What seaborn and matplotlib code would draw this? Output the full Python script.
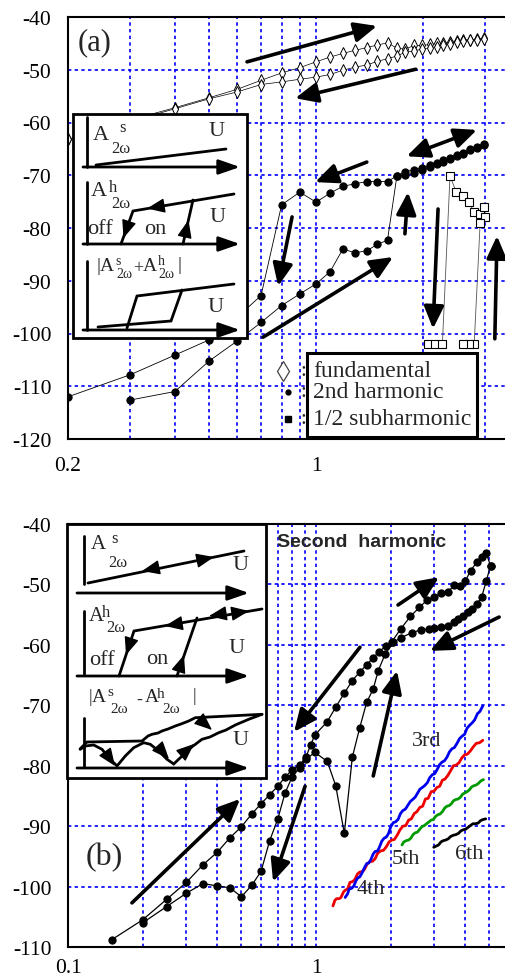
import matplotlib
matplotlib.use('Agg')
import matplotlib.pyplot as plt
import seaborn as sns
from matplotlib.patches import Rectangle
from matplotlib.ticker import NullFormatter

# ---------------- panel (a) data ----------------
fund_x = [0.2, 0.3, 0.4, 0.5, 0.6, 0.7, 0.8, 0.9, 1.0, 1.095, 1.19, 1.29, 1.39, 1.49,
          1.59, 1.69, 1.78, 1.89, 1.99, 2.10, 2.19, 2.28, 2.39, 2.49, 2.60, 2.72, 2.84, 2.98]
fund_up = [-63.2, -59.5, -57.2, -55.3, -53.7, -52.0, -50.6, -49.6, -48.5, -47.6, -46.9, -46.3,
           -45.8, -45.3, -44.9, -45.9, -46.1, -45.4, -45.4, -45.2, -45.0, -44.9, -44.7, -44.5,
           -44.4, -44.3, -44.2, -44.0]
fund_down = [-63.2, -59.8, -57.4, -55.5, -54.2, -52.8, -52.3, -51.8, -51.4, -50.9, -50.1, -49.5,
             -49.1, -48.4, -47.9, -47.4, -46.7, -46.4, -46.1, -45.8, -45.6, -45.3, -45.1, -44.8,
             -44.6, -44.4, -44.3, -44.2]

h2a_x1 = [0.2, 0.3, 0.4, 0.5, 0.6, 0.7, 0.8, 0.9, 1.0, 1.095, 1.19, 1.29, 1.39, 1.49,
          1.59, 1.69, 1.78, 1.89, 1.99, 2.10, 2.19, 2.28, 2.39, 2.49, 2.60, 2.72, 2.84, 2.98]
h2a_y1 = [-112.0, -107.8, -104.1, -101.2, -96.9, -92.8, -75.6, -73.2, -75.1, -73.4, -72.1, -71.6,
          -71.2, -71.2, -71.2, -70.1, -69.3, -69.0, -68.6, -68.1, -67.6, -67.2, -66.7, -66.2,
          -65.7, -65.1, -64.6, -64.0]
h2a_x2 = [0.3, 0.4, 0.5, 0.6, 0.7, 0.8, 0.9, 1.0, 1.095, 1.19, 1.29, 1.39, 1.49, 1.59,
          1.69, 1.78, 1.89, 1.99, 2.10, 2.19, 2.28, 2.39, 2.49, 2.60, 2.72, 2.84, 2.98]
h2a_y2 = [-112.6, -111.0, -105.2, -101.4, -97.9, -94.7, -92.5, -90.6, -88.3, -84.0, -84.7, -84.3,
          -83.1, -82.3, -70.1, -70.0, -69.6, -69.0, -68.4, -67.9, -67.4, -66.9, -66.4, -65.9,
          -65.3, -64.8, -64.2]

sub_x = [2.07, 2.17, 2.27, 2.385, 2.48, 2.59, 2.69, 2.79, 2.90, 2.98, 2.99, 2.90, 2.79, 2.70, 2.60]
sub_y = [-102.0, -102.0, -102.0, -70.1, -73.1, -74.0, -75.0, -77.0, -77.3, -76.1, -78.0, -79.1,
         -102.0, -102.0, -102.0]

# ---------------- panel (b) data ----------------
h2b_x1 = [0.15, 0.2, 0.25, 0.3, 0.35, 0.4, 0.45, 0.5, 0.55, 0.6, 0.65, 0.7, 0.75, 0.8, 0.86,
          0.91, 0.95, 0.99, 1.11, 1.2, 1.3, 1.4, 1.5, 1.6, 1.7, 1.8, 1.91, 2.02, 2.19, 2.4,
          2.61, 2.8, 3.0, 3.2, 3.4, 3.6, 3.8, 4.0, 4.2, 4.45, 4.65, 4.85, 5.05]
h2b_y1 = [-108.8, -105.5, -102.1, -99.3, -96.4, -94.3, -91.9, -90.1, -88.0, -86.3, -84.8, -83.4,
          -81.9, -80.7, -79.9, -78.6, -76.6, -74.9, -72.7, -70.3, -68.0, -65.9, -64.5, -63.3,
          -62.1, -61.1, -60.2, -59.5, -57.4, -55.3, -53.8, -52.6, -52.0, -51.5, -51.3, -50.1,
          -50.2, -49.4, -47.7, -46.3, -45.5, -44.8, -46.9]
h2b_x2 = [5.05, 4.85, 4.65, 4.45, 4.25, 4.1, 3.9, 3.75, 3.6, 3.4, 3.2, 3.0, 2.85, 2.65, 2.43,
          2.2, 2.05, 1.9, 1.78, 1.7, 1.6, 1.5, 1.4, 1.3, 1.2, 1.11, 0.99, 0.91, 0.86, 0.8, 0.75,
          0.7, 0.65, 0.6, 0.55, 0.5, 0.45, 0.4, 0.35, 0.3, 0.25, 0.2]
h2b_y2 = [-46.9, -49.5, -52.1, -53.2, -54.1, -54.6, -55.2, -55.7, -56.3, -56.8, -57.1, -57.2,
          -57.4, -57.5, -58.0, -58.8, -59.6, -61.5, -64.3, -67.3, -69.5, -73.7, -78.6, -91.2,
          -83.3, -79.3, -77.8, -78.9, -80.3, -81.9, -84.5, -88.9, -92.4, -97.5, -99.8, -101.7,
          -100.2, -99.9, -99.5, -101.1, -103.3, -106.0]

h3_x = [1.31, 1.34, 1.36, 1.39, 1.42, 1.45, 1.47, 1.50, 1.53, 1.57, 1.60, 1.63, 1.66, 1.70,
        1.73, 1.77, 1.80, 1.84, 1.88, 1.92, 1.96, 2.00, 2.05, 2.09, 2.14, 2.19, 2.24, 2.29,
        2.34, 2.40, 2.45, 2.51, 2.56, 2.62, 2.68, 2.74, 2.81, 2.87, 2.94, 3.01, 3.08, 3.15,
        3.22, 3.29, 3.37, 3.45, 3.53, 3.61, 3.70, 3.79, 3.88, 3.97, 4.06, 4.16, 4.26, 4.36,
        4.47, 4.58, 4.70]
h3_y = [-101.8, -101.2, -100.4, -100.3, -99.9, -99.0, -98.6, -98.4, -97.8, -96.8, -96.2, -96.1,
        -95.6, -94.6, -94.2, -94.1, -93.5, -92.5, -92.0, -91.8, -91.2, -90.1, -89.4, -89.3,
        -88.9, -87.9, -87.4, -87.2, -86.6, -85.9, -85.6, -85.2, -84.6, -83.9, -83.6, -83.3,
        -82.8, -82.0, -81.5, -81.3, -80.6, -79.8, -79.4, -79.2, -78.6, -77.7, -77.2, -77.0,
        -76.3, -75.5, -75.1, -74.8, -73.8, -73.3, -72.9, -72.4, -71.4, -71.0, -70.1]
h4_x = [1.17, 1.19, 1.21, 1.24, 1.26, 1.29, 1.31, 1.34, 1.37, 1.40, 1.43, 1.47, 1.50, 1.54,
        1.57, 1.61, 1.65, 1.69, 1.73, 1.77, 1.82, 1.87, 1.92, 1.97, 2.02, 2.07, 2.13, 2.18,
        2.24, 2.30, 2.36, 2.42, 2.49, 2.55, 2.62, 2.69, 2.76, 2.83, 2.91, 2.99, 3.07, 3.15,
        3.23, 3.31, 3.40, 3.49, 3.58, 3.67, 3.77, 3.87, 3.97, 4.07, 4.18, 4.30, 4.42, 4.56, 4.70]
h4_y = [-103.2, -102.3, -102.0, -102.0, -101.8, -100.9, -100.6, -100.4, -99.3, -99.2, -98.9,
        -97.9, -97.6, -97.5, -97.1, -96.2, -95.9, -95.8, -95.4, -94.5, -94.1, -94.0, -93.4,
        -92.6, -92.3, -92.2, -91.4, -90.6, -90.0, -89.9, -89.0, -88.8, -87.9, -87.6, -86.9,
        -86.7, -85.5, -85.4, -84.3, -84.2, -83.6, -83.4, -82.4, -82.2, -81.6, -80.8, -80.0,
        -79.9, -79.5, -78.7, -78.2, -78.1, -77.6, -76.9, -76.3, -76.2, -75.8]
h5_x = [2.22, 2.26, 2.31, 2.36, 2.41, 2.46, 2.51, 2.56, 2.62, 2.67, 2.73, 2.79, 2.85, 2.91,
        2.97, 3.03, 3.10, 3.16, 3.23, 3.30, 3.37, 3.44, 3.51, 3.58, 3.66, 3.74, 3.82, 3.90,
        3.98, 4.06, 4.15, 4.24, 4.33, 4.42, 4.52, 4.62, 4.73]
h5_y = [-93.1, -92.6, -92.4, -92.3, -92.0, -91.4, -91.1, -91.0, -90.5, -90.1, -89.9, -89.6,
        -89.3, -89.0, -88.9, -88.4, -88.1, -88.0, -87.6, -87.0, -86.7, -86.6, -86.3, -85.8,
        -85.6, -85.5, -85.2, -84.7, -84.5, -84.3, -84.0, -83.5, -83.3, -83.2, -82.9, -82.5, -82.3]
h6_x = [2.98, 3.05, 3.12, 3.19, 3.26, 3.33, 3.41, 3.49, 3.58, 3.66, 3.75, 3.83, 3.92, 4.01,
        4.10, 4.19, 4.29, 4.39, 4.50, 4.60, 4.71, 4.83]
h6_y = [-93.5, -93.3, -93.1, -92.6, -92.4, -92.3, -92.1, -91.7, -91.5, -91.4, -91.2, -90.8,
        -90.6, -90.5, -90.2, -89.9, -89.6, -89.6, -89.5, -89.1, -88.9, -88.8]

# arrows (data coordinates): (tail, head)
arrows_a = [((0.639, -48.5), (1.485, -41.7)), ((1.91, -49.9), (0.873, -55.4)),
            ((1.39, -67.5), (0.994, -71.3)), ((0.856, -77.9), (0.782, -91.0)),
            ((1.78, -81.1), (1.816, -73.2)), ((0.709, -100.7), (1.648, -85.5)),
            ((2.207, -76.4), (2.136, -99.1)), ((3.19, -101.0), (3.236, -81.5))]
double_a = ((1.80, -66.4), (2.84, -61.4))
arrows_b = [((0.181, -102.7), (0.494, -85.5)), ((0.903, -83.4), (0.671, -99.2)),
            ((1.503, -60.4), (0.815, -74.4)), ((2.14, -53.4), (3.13, -48.8)),
            ((5.47, -55.4), (2.88, -61.0)), ((1.70, -81.7), (2.12, -64.3))]

# ---------------- sketch insets (figure pixel coordinates) ----------------
inset_a_box = (73, 115, 247, 339)
inset_a_lines = [[(87, 118), (87, 168)], [(96, 166), (226, 150)],
                 [(87, 183), (87, 245)], [(234, 195), (133, 212), (121, 245)],
                 [(183, 245), (193, 201)], [(87, 262), (87, 331)],
                 [(98, 328), (171, 322), (182, 291)], [(127, 329), (137, 297), (234, 285)]]
inset_a_axes = [((83, 168), (240, 168)), ((83, 245), (240, 245)), ((83, 331), (240, 331))]
inset_a_heads = [((165, 206.5), (147, 209.5)), ((127.5, 227), (123.5, 239)),
                 ((185.5, 234), (188.5, 221))]
inset_a_text = [("A", 101, 136, 16), ("s", 123, 128, 12), ("2ω", 121, 149, 12), ("U", 217, 131, 16),
                ("A", 99, 192, 16), ("h", 113, 188, 12), ("2ω", 121, 204, 12), ("U", 218, 218, 16),
                ("off", 100, 229, 16), ("on", 155, 229, 16),
                ("|A", 106, 267, 14), ("s", 118, 262, 10), ("2ω", 124, 275, 10), ("+", 138, 269, 13),
                ("A", 150, 267, 14), ("h", 161, 262, 10), ("2ω", 166, 275, 10), ("|", 180, 266, 14),
                ("U", 216, 308, 16)]

inset_b_box = (67, 525, 266, 779)
inset_b_lines = [[(84, 537), (84, 585)], [(88, 584), (244, 552)],
                 [(84, 612), (84, 675)], [(262, 610), (134, 632), (119, 677)],
                 [(177, 677), (197, 619)], [(84, 719), (84, 767)],
                 [(80.3, 750.3), (85.3, 747), (93.7, 746), (102, 750.3), (108.7, 758.7), (117, 767),
                  (125.3, 757), (133.7, 748.7), (143.7, 743.7), (150.3, 745.3), (158.7, 752),
                  (167, 760.3), (173.7, 765), (180.3, 758.7), (188.7, 750.3), (202, 740.3),
                  (210, 738), (218.7, 733.7), (226, 731), (235.3, 726), (248.7, 720.3), (262, 715.3)],
                 [(80, 750), (87, 743), (142, 742), (148, 737), (152, 735.3), (158, 734), (162, 732),
                  (168, 730), (175.3, 727), (181, 725), (188.7, 722), (195.3, 718.7), (262, 715.3)]]
inset_b_axes = [((77, 594), (249, 594)), ((77, 677), (249, 677)), ((77, 769), (249, 769))]
inset_b_heads = [((200, 561), (214, 558)), ((156, 569), (142, 572)),
                 ((180, 624.5), (165, 627)), ((222, 615), (209, 617)), ((236, 614), (249, 612)),
                 ((130, 644), (126, 656)), ((180, 668), (184, 656)),
                 ((108, 757), (115, 767)), ((161, 751), (169, 760)), ((186, 752), (194, 745)),
                 ((204, 724), (212, 731))]
inset_b_text = [("A", 98, 545, 15), ("s", 115, 539, 12), ("2ω", 118, 563, 12), ("U", 241, 566, 16),
                ("A", 96, 617, 15), ("h", 106, 613, 12), ("2ω", 116, 628, 12),
                ("off", 102, 661, 16), ("on", 157, 660, 16), ("U", 237, 649, 16),
                ("|", 90, 698, 13), ("A", 99, 698, 14), ("s", 110, 693, 11), ("2ω", 119, 710, 11),
                ("-", 139, 700, 13), ("A", 152, 698, 14), ("h", 161, 695, 11), ("2ω", 171, 710, 11),
                ("|", 194, 697, 13), ("U", 241, 741, 16)]

legend_box = (307, 354, 477, 438)
legend_labels = ["fundamental", "2nd harmonic", "1/2 subharmonic"]
legend_rows = [372, 393, 420]
harm_labels = [("3rd", 427, 742), ("4th", 371, 890), ("5th", 406, 860), ("6th", 469, 855)]

W, H = 506, 979
BLUE = '#0000ff'
SERIF = ['Liberation Serif', 'DejaVu Serif']

sns.set_theme(style='white')
plt.rcParams['font.family'] = SERIF
plt.rcParams['axes.unicode_minus'] = False

fig = plt.figure(figsize=(W / 100, H / 100), dpi=100)


def px_box(x0, y0, x1, y1):
    return [x0 / W, 1 - y1 / H, (x1 - x0) / W, (y1 - y0) / H]


def style_axes(ax, xlim, ylim, xmajor, xlabels, xminor, yticks, xpad):
    ax.set_xscale('log')
    ax.set_xlim(*xlim)
    ax.set_ylim(*ylim)
    ax.set_xticks(xmajor, xlabels)
    ax.set_xticks(xminor, minor=True)
    ax.xaxis.set_minor_formatter(NullFormatter())
    ax.set_yticks(yticks, [str(v) for v in yticks])
    ax.grid(True, which='both', axis='x', color=BLUE, ls=(0, (2, 2)), lw=1.2)
    ax.grid(True, which='major', axis='y', color=BLUE, ls=(0, (2, 2)), lw=1.2)
    ax.set_axisbelow(True)
    ax.tick_params(axis='both', which='both', length=0, labelsize=15.5, colors='black')
    ax.tick_params(axis='y', pad=12)
    ax.tick_params(axis='x', pad=xpad)
    for side in ['left', 'bottom', 'top']:
        ax.spines[side].set_color('black')
        ax.spines[side].set_linewidth(1.5)
    ax.spines['right'].set_visible(False)
    ax.set_xlabel('')
    ax.set_ylabel('')


def draw_arrow(ax, tail, head, lw=2.6, hl=1.35, hw=0.6, both=False):
    style = '<|-|>' if both else '-|>'
    ax.annotate('', xy=head, xytext=tail, annotation_clip=False,
                arrowprops=dict(arrowstyle=f'{style},head_length={hl},head_width={hw}',
                                lw=lw, color='black', shrinkA=0, shrinkB=0,
                                mutation_scale=10))


ax_a = fig.add_axes(px_box(68, 18, 506, 440))
ax_b = fig.add_axes(px_box(68, 525, 506, 948))

# panel (a)
ax_a.set_xscale('log')
for ys in (fund_up, fund_down):
    sns.lineplot(x=fund_x, y=ys, ax=ax_a, sort=False, estimator=None, color='black',
                 linewidth=0.5, marker='d', markersize=5.8, markerfacecolor='white',
                 markeredgecolor='black', markeredgewidth=0.7, legend=False)
sns.lineplot(x=sub_x, y=sub_y, ax=ax_a, sort=False, estimator=None, color='#555555',
             linewidth=0.6, marker='s', markersize=5.5, markerfacecolor='white',
             markeredgecolor='black', markeredgewidth=0.8, legend=False)
for xs, ys in ((h2a_x1, h2a_y1), (h2a_x2, h2a_y2)):
    sns.lineplot(x=xs, y=ys, ax=ax_a, sort=False, estimator=None, color='black',
                 linewidth=0.6, marker='o', markersize=5.2, markerfacecolor='black',
                 markeredgecolor='black', legend=False)
style_axes(ax_a, (0.2, 3.43), (-120, -40), [0.2, 1], ['0.2', '1'],
           [0.3, 0.4, 0.5, 0.6, 0.7, 0.8, 0.9, 2, 3], list(range(-120, -39, 10)), 12)
for tail, head in arrows_a:
    draw_arrow(ax_a, tail, head)
draw_arrow(ax_a, double_a[0], double_a[1], both=True)

# panel (b)
ax_b.set_xscale('log')
for xs, ys in ((h2b_x1, h2b_y1), (h2b_x2, h2b_y2)):
    sns.lineplot(x=xs, y=ys, ax=ax_b, sort=False, estimator=None, color='black',
                 linewidth=0.9, marker='o', markersize=5.2, markerfacecolor='black',
                 markeredgecolor='black', legend=False)
for xs, ys, c in ((h4_x, h4_y, '#ee0000'), (h3_x, h3_y, '#0000ee'),
                  (h5_x, h5_y, '#009a00'), (h6_x, h6_y, 'black')):
    sns.lineplot(x=xs, y=ys, ax=ax_b, sort=False, estimator=None, color=c,
                 linewidth=2.0, legend=False)
style_axes(ax_b, (0.1, 5.83), (-110, -40), [0.1, 1], ['0.1', '1'],
           [0.2, 0.3, 0.4, 0.5, 0.6, 0.7, 0.8, 0.9, 2, 3, 4, 5], list(range(-110, -39, 10)), 8)
for tail, head in arrows_b:
    draw_arrow(ax_b, tail, head)

# overlay in pixel coordinates for sketches, labels and legend
ov = fig.add_axes([0, 0, 1, 1])
ov.set_xlim(0, W)
ov.set_ylim(H, 0)
ov.axis('off')


def draw_inset(box, lines, axes_arrows, heads, texts):
    x0, y0, x1, y1 = box
    ov.add_patch(Rectangle((x0, y0), x1 - x0, y1 - y0, facecolor='white',
                           edgecolor='black', lw=2.0, zorder=3))
    for pts in lines:
        ov.plot([p[0] for p in pts], [p[1] for p in pts], color='black', lw=2.0,
                zorder=4, solid_joinstyle='miter')
    for tail, head in axes_arrows:
        draw_arrow(ov, tail, head, lw=2.0, hl=1.3, hw=0.45)
    for tail, head in heads:
        draw_arrow(ov, tail, head, lw=1.0, hl=1.1, hw=0.45)
    for s, x, y, size in texts:
        ov.text(x, y, s, fontsize=size, ha='center', va='center', family=SERIF, zorder=5)


draw_inset(inset_a_box, inset_a_lines, inset_a_axes, inset_a_heads, inset_a_text)
draw_inset(inset_b_box, inset_b_lines, inset_b_axes, inset_b_heads, inset_b_text)

# legend of panel (a)
lx0, ly0, lx1, ly1 = legend_box
ov.add_patch(Rectangle((lx0, ly0), lx1 - lx0, ly1 - ly0, facecolor='white',
                       edgecolor='black', lw=2.2, zorder=3))
for lab, y in zip(legend_labels, legend_rows):
    ov.text(313, y, lab, fontsize=17, ha='left', va='center', family=SERIF, zorder=5)
    ov.text(303, y, ':', fontsize=15, ha='center', va='center', family=SERIF, zorder=5)
ov.plot([283], [legend_rows[0]], marker='d', markersize=10, markerfacecolor='white',
        markeredgecolor='#444444', markeredgewidth=0.9, ls='none')
ov.plot([288], [legend_rows[1]], marker='o', markersize=3.5, color='black', ls='none')
ov.plot([288], [legend_rows[2]], marker='s', markersize=4, color='black', ls='none')

ov.text(95, 43, '(a)', fontsize=22, ha='center', va='center', family=SERIF)
ov.text(104, 858, '(b)', fontsize=23, ha='center', va='center', family=SERIF)
ov.text(277, 543, 'Second  harmonic', fontsize=14, fontweight='bold', ha='left', va='center',
        family=['Liberation Sans', 'DejaVu Sans'])
for s, x, y in harm_labels:
    ov.text(x, y, s, fontsize=16, ha='center', va='center', family=SERIF)

fig.savefig('out.png', dpi=100)
